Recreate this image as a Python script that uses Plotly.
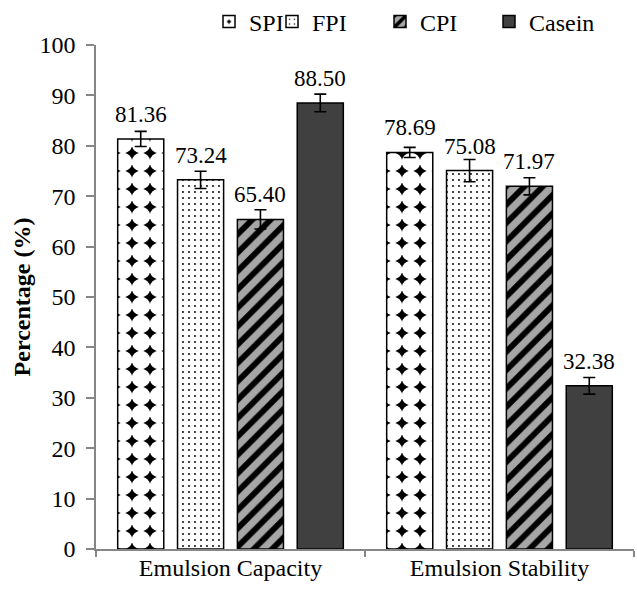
import plotly.graph_objects as go

categories = ["Emulsion Capacity", "Emulsion Stability"]
series_names = ["SPI", "FPI", "CPI", "Casein"]
spi_values = [81.36, 78.69]
fpi_values = [73.24, 75.08]
cpi_values = [65.40, 71.97]
casein_values = [88.50, 32.38]
spi_err = [1.5, 1.0]
fpi_err = [1.7, 2.2]
cpi_err = [1.9, 1.7]
casein_err = [1.75, 1.65]
y_ticks = [0, 10, 20, 30, 40, 50, 60, 70, 80, 90, 100]

values = [spi_values, fpi_values, cpi_values, casein_values]
errors = [spi_err, fpi_err, cpi_err, casein_err]

FONT = "Liberation Serif, Times New Roman, serif"
FS = 24
FS_LABEL = 23
AXIS_GRAY = "#868686"

patterns = [
    dict(shape=".", bgcolor="black", fgcolor="white", fgopacity=1, size=18, solidity=0.80, fillmode="overlay"),
    dict(shape=".", bgcolor="white", fgcolor="black", fgopacity=1, size=6, solidity=0.08, fillmode="overlay"),
    dict(shape="/", bgcolor="#a6a6a6", fgcolor="black", fgopacity=1, size=13, solidity=0.45, fillmode="overlay"),
    None,
]
colors = ["black", "white", "#a6a6a6", "#404040"]
legend_ids = ["legend", "legend2", "legend3", "legend4"]

bargap = 0.11
bargroupgap = 0.23

fig = go.Figure()
for i, name in enumerate(series_names):
    marker = dict(color=colors[i], line=dict(color="black", width=1.5))
    if patterns[i] is not None:
        marker["pattern"] = patterns[i]
    fig.add_trace(go.Bar(
        name=name,
        x=categories,
        y=values[i],
        marker=marker,
        error_y=dict(type="data", array=errors[i], color="black", thickness=1.6, width=6),
        legend=legend_ids[i],
    ))

# data labels
slot = (1 - bargap) / len(series_names)
annotations = []
for i in range(len(series_names)):
    for c in range(len(categories)):
        annotations.append(dict(
            x=c + (i - (len(series_names) - 1) / 2) * slot,
            y=values[i][c],
            xref="x", yref="y",
            text=f"{values[i][c]:.2f}",
            showarrow=False,
            yanchor="bottom",
            yshift=10,
            font=dict(family=FONT, size=FS_LABEL, color="black"),
        ))

legend_x_px = [209, 272, 380, 489]
layout_legends = {}
for i, lid in enumerate(legend_ids):
    layout_legends[lid] = dict(
        x=legend_x_px[i] / 637,
        xref="container",
        xanchor="left",
        y=1 - 22 / 591,
        yref="container",
        yanchor="middle",
        orientation="h",
        font=dict(family=FONT, size=FS, color="black"),
        bgcolor="rgba(0,0,0,0)",
        itemwidth=30,
    )

fig.update_layout(
    width=637,
    height=591,
    margin=dict(l=96, r=3, t=45, b=42, autoexpand=False),
    paper_bgcolor="white",
    plot_bgcolor="white",
    barmode="group",
    bargap=bargap,
    bargroupgap=bargroupgap,
    font=dict(family=FONT, size=FS, color="black"),
    showlegend=True,
    annotations=annotations,
    xaxis=dict(
        type="category",
        automargin=False,
        showline=True,
        linecolor=AXIS_GRAY,
        linewidth=1.5,
        tickson="boundaries",
        ticks="outside",
        ticklen=6,
        tickcolor=AXIS_GRAY,
        tickwidth=1.5,
        ticklabelstandoff=-4,
        showgrid=False,
        tickfont=dict(family=FONT, size=FS, color="black"),
    ),
    yaxis=dict(
        range=[0, 100],
        automargin=False,
        tickvals=y_ticks,
        showline=True,
        linecolor=AXIS_GRAY,
        linewidth=1.5,
        ticks="outside",
        ticklen=8,
        tickcolor=AXIS_GRAY,
        tickwidth=1.5,
        ticklabelstandoff=6,
        showgrid=False,
        zeroline=False,
        tickfont=dict(family=FONT, size=FS, color="black"),
        title=dict(text="<b>Percentage (%)</b>", font=dict(family=FONT, size=FS, color="black"), standoff=2),
    ),
    **layout_legends,
)

fig.write_html("out.html", config={"displayModeBar": False},
               post_script="document.body.style.margin='0px';")
